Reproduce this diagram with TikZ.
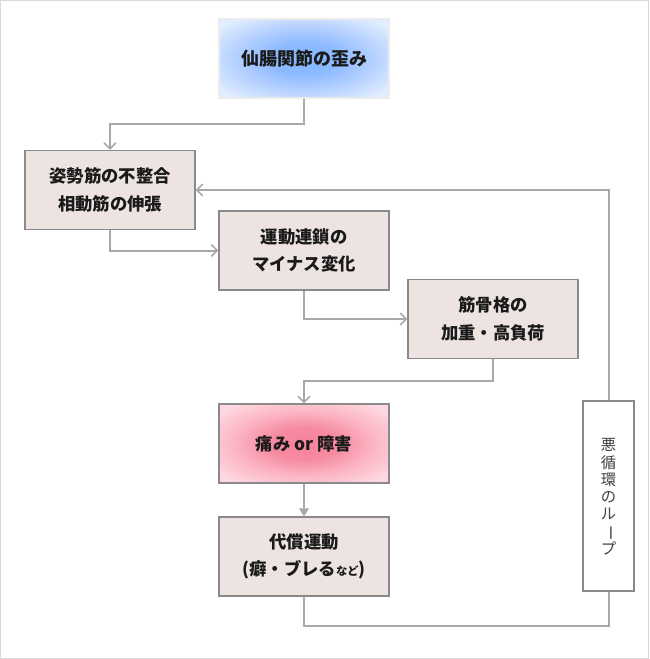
\documentclass[tikz,border=0pt]{standalone}
\usepackage{fontspec}
\usepackage{graphicx}
\newfontfamily\jp{Noto Sans CJK JP}
\usetikzlibrary{arrows.meta}
\definecolor{boxfill}{HTML}{EDE4E2}
\definecolor{boxline}{HTML}{8A8A8A}
\definecolor{conn}{HTML}{A8A8A8}
\definecolor{txt}{HTML}{1A1A1A}
\definecolor{blueA}{HTML}{86B6FF}
\definecolor{blueB}{HTML}{B4D0FF}
\definecolor{blueC}{HTML}{E2EDFF}
\definecolor{pinkA}{HTML}{F5839B}
\definecolor{pinkB}{HTML}{FBB4C3}
\definecolor{pinkC}{HTML}{FFD9E1}
\pgfdeclareradialshading{softblue}{\pgfpoint{0bp}{0bp}}{color(0bp)=(blueA); color(10bp)=(blueA!85!blueB); color(20bp)=(blueB); color(32bp)=(blueC); color(50bp)=(blueC)}
\pgfdeclareradialshading{softpink}{\pgfpoint{0bp}{0bp}}{color(0bp)=(pinkA); color(10bp)=(pinkA!85!pinkB); color(20bp)=(pinkB); color(32bp)=(pinkC); color(50bp)=(pinkC)}
\tikzset{
  stepbox/.style={draw=boxline, line width=0.8pt, fill=boxfill, minimum width=127.5pt, minimum height=59.25pt,
    align=center, font=\jp\bfseries\fontsize{13}{20.5}\selectfont, text=txt, inner sep=0pt},
  conline/.style={draw=conn, line width=1.5pt},
  arr/.style={conline, -{Straight Barb[length=4.5pt,width=9pt,line width=1.2pt]}},
  farr/.style={conline, -{Triangle[length=6pt,width=7pt]}},
}
\begin{document}
\begin{tikzpicture}[x=0.75pt,y=-0.75pt]
\useasboundingbox (0,0) rectangle (649,659);
\draw[draw=black!15, line width=0.8pt] (0.5,0.5) rectangle (648.5,658.5);
\node[stepbox, draw=black!8, fill=none, shading=softblue, font=\jp\bfseries\fontsize{13.5}{19}\selectfont] (top) at (304,58.5) {仙腸関節の歪み};
\node[stepbox] (b2) at (110,190) {姿勢筋の不整合\\相動筋の伸張};
\node[stepbox] (b3) at (304,250.5) {運動連鎖の\\マイナス変化};
\node[stepbox] (b4) at (493,319) {筋骨格の\\加重・高負荷};
\node[stepbox, fill=none, shading=softpink] (pain) at (304,443.5) {痛み or 障害};
\node[stepbox] (b6) at (304,556.5) {代償運動\\(癖・ブレる{\fontsize{8.5}{10}\selectfont など})};
\node[draw=boxline, line width=0.8pt, fill=white, minimum width=38.25pt, minimum height=142.5pt, inner sep=0pt] (loop) at (608.5,496) {};
\node[font=\jp\fontsize{11.5}{12.8}\selectfont, text=black!75, align=center, inner sep=0pt] (looptext) at (608.5,497)
  {悪\\循\\環\\の\\ル\\\rotatebox[origin=c]{-90}{ー}\\プ};
\draw[arr] (top.south) -- ++(0,25) -| (b2.north);
\draw[arr] (b2.south) |- (b3.west);
\draw[arr] (b3.south) |- (b4.west);
\draw[arr] (b4.south) -- ++(0,22) -| (pain.north);
\draw[farr] (pain.south) -- (b6.north);
\draw[conline] (b6.south) -- ++(0,29) -| (loop.south);
\draw[arr] (loop.north) |- (b2.east);
\end{tikzpicture}
\end{document}
